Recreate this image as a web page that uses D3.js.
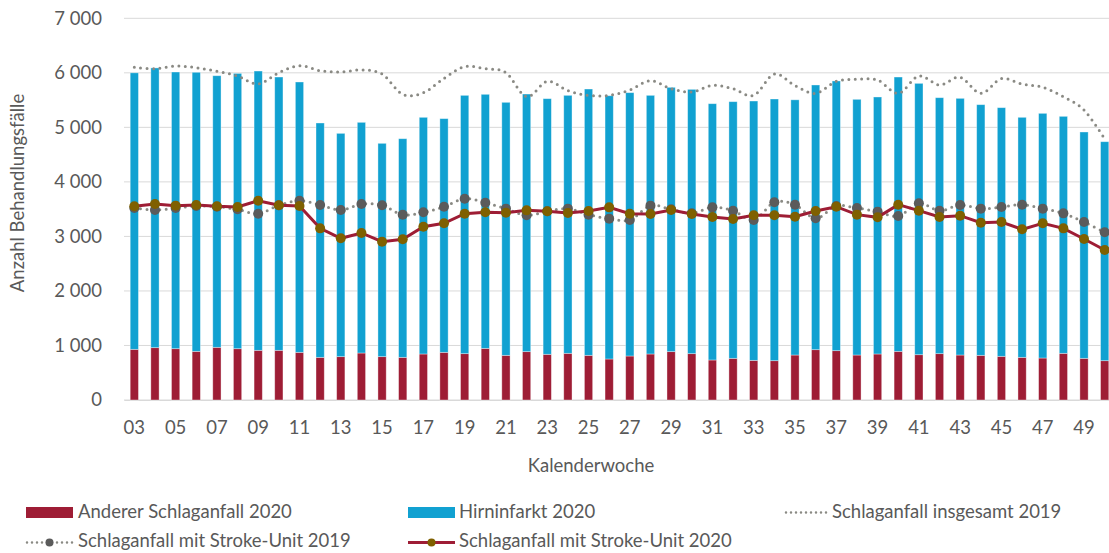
<!DOCTYPE html>
<html lang="de">
<head>
<meta charset="UTF-8">
<title>Schlaganfall Behandlungsfälle</title>
<script src="https://d3js.org/d3.v7.min.js"></script>
<style>
  body { margin: 0; background: #fff; }
  text { font-family: Lato, "Open Sans", sans-serif; fill: #595959; }
</style>
</head>
<body>
<svg id="main" width="1109" height="553"></svg>
<script>
// Kalenderwochen 03..50
const weeks = d3.range(3, 51).map(w => String(w).padStart(2, '0'));

// Anderer Schlaganfall 2020
const anderer2020 = [929, 960, 941, 892, 966, 941, 911, 911, 874, 782, 795, 862, 795, 782, 844, 874,
  850, 947, 819, 887, 838, 856, 819, 752, 807, 844, 887, 850, 734, 764, 727, 721,
  825, 923, 905, 825, 844, 892, 831, 850, 825, 819, 801, 782, 770, 856, 764, 721];

// Hirninfarkt + Anderer = Schlaganfall 2020 gesamt (Balkenhöhe)
const gesamt2020 = [6000, 6090, 6015, 6010, 5947, 5990, 6033, 5923, 5832, 5080, 4890, 5092, 4707, 4792, 5184, 5160,
  5587, 5606, 5459, 5611, 5526, 5587, 5703, 5580, 5636, 5587, 5734, 5697, 5434, 5471, 5483, 5520,
  5505, 5777, 5851, 5514, 5557, 5923, 5807, 5544, 5532, 5416, 5361, 5184, 5257, 5202, 4915, 4737];
const hirninfarkt2020 = gesamt2020.map((g, i) => g - anderer2020[i]);

// Schlaganfall insgesamt 2019
const insgesamt2019 = [6101, 6076, 6125, 6094, 6028, 5942, 5795, 6003, 6131, 6039, 6015, 6052, 5978, 5606, 5636, 5899,
  6113, 6076, 6003, 5562, 5844, 5673, 5587, 5587, 5685, 5856, 5709, 5648, 5771, 5709, 5587, 5978,
  5765, 5624, 5844, 5881, 5869, 5624, 5942, 5777, 5918, 5624, 5893, 5795, 5734, 5562, 5318, 4790];

// Schlaganfall mit Stroke-Unit 2019
const strokeUnit2019 = [3521, 3484, 3521, 3558, 3545, 3497, 3417, 3570, 3655, 3576, 3484, 3594, 3570, 3399, 3442, 3545,
  3692, 3619, 3509, 3387, 3460, 3509, 3399, 3326, 3301, 3564, 3497, 3423, 3533, 3472, 3301, 3625,
  3580, 3332, 3558, 3521, 3454, 3374, 3607, 3472, 3576, 3509, 3539, 3582, 3509, 3423, 3264, 3075];

// Schlaganfall mit Stroke-Unit 2020
const strokeUnit2020 = [3552, 3594, 3564, 3576, 3552, 3539, 3655, 3570, 3558, 3148, 2965, 3063, 2903, 2947, 3178, 3240,
  3417, 3442, 3435, 3478, 3460, 3429, 3466, 3533, 3417, 3411, 3484, 3411, 3356, 3319, 3387, 3387,
  3362, 3466, 3545, 3399, 3350, 3582, 3472, 3356, 3380, 3252, 3264, 3130, 3240, 3148, 2952, 2751];

const yTicks = [0, 1000, 2000, 3000, 4000, 5000, 6000, 7000];

const colRed = '#9E1D35', colBlue = '#11A1D1', colOlive = '#7F6000', colGrey = '#5B5B5B', colDot = '#8A8A84';
const fs = '18.5px';

const svg = d3.select('svg#main');
const plotLeft = 124, plotRight = 1115, plotTop = 18.3, plotBottom = 400;

const x = d3.scaleBand().domain(weeks).range([plotLeft, plotRight]).paddingInner(0.6).paddingOuter(0.3);
const y = d3.scaleLinear().domain([0, 7000]).range([plotBottom, plotTop]);
const cx = w => x(w) + x.bandwidth() / 2;

// gridlines
svg.append('g').selectAll('line').data(yTicks).join('line')
  .attr('x1', plotLeft).attr('x2', plotRight)
  .attr('y1', d => y(d)).attr('y2', d => y(d))
  .attr('stroke', '#D9D9D9').attr('stroke-width', 1);

// y axis
const yAxis = svg.append('g').attr('transform', `translate(${plotLeft},0)`)
  .call(d3.axisLeft(y).tickValues(yTicks).tickSize(0).tickPadding(22)
    .tickFormat(d => d3.format(',')(d).replace(',', ' ')));
yAxis.select('.domain').remove();
yAxis.selectAll('text').style('font-size', fs).attr('fill', '#595959');

// x axis
const xAxis = svg.append('g').attr('transform', `translate(0,${plotBottom})`)
  .call(d3.axisBottom(x).tickSize(0).tickPadding(21)
    .tickFormat((d, i) => i % 2 === 0 ? d : ''));
xAxis.select('.domain').attr('stroke', '#D9D9D9');
xAxis.selectAll('text').style('font-size', fs).attr('fill', '#595959');

// stacked bars
const rows = weeks.map((w, i) => ({ week: w, anderer: anderer2020[i], hirn: hirninfarkt2020[i] }));
const series = d3.stack().keys(['anderer', 'hirn'])(rows);
const barCols = [colRed, colBlue];
svg.append('g').selectAll('g').data(series).join('g')
  .attr('fill', (d, i) => barCols[i])
  .selectAll('rect').data(d => d).join('rect')
  .attr('x', d => x(d.data.week))
  .attr('width', x.bandwidth())
  .attr('y', d => y(d[1]))
  .attr('height', d => y(d[0]) - y(d[1]))
  .attr('stroke', 'rgba(255,255,255,0.45)').attr('stroke-width', 0.8);

// dotted total 2019
const smooth = d3.line().x((d, i) => cx(weeks[i])).y(d => y(d)).curve(d3.curveCardinal.tension(0));
svg.append('path').datum(insgesamt2019).attr('d', smooth)
  .attr('fill', 'none').attr('stroke', colDot).attr('stroke-width', 3)
  .attr('stroke-linecap', 'round').attr('stroke-dasharray', '0,6.4');

// Stroke-Unit 2019
svg.append('path').datum(strokeUnit2019).attr('d', smooth)
  .attr('fill', 'none').attr('stroke', colDot).attr('stroke-width', 3)
  .attr('stroke-linecap', 'round').attr('stroke-dasharray', '0,6.4');
svg.append('g').selectAll('circle').data(strokeUnit2019).join('circle')
  .attr('cx', (d, i) => cx(weeks[i])).attr('cy', d => y(d)).attr('r', 5)
  .attr('fill', colGrey);

// Stroke-Unit 2020
const straight = d3.line().x((d, i) => cx(weeks[i])).y(d => y(d));
svg.append('path').datum(strokeUnit2020).attr('d', straight)
  .attr('fill', 'none').attr('stroke', colRed).attr('stroke-width', 3);
svg.append('g').selectAll('circle').data(strokeUnit2020).join('circle')
  .attr('cx', (d, i) => cx(weeks[i])).attr('cy', d => y(d)).attr('r', 5)
  .attr('fill', colOlive);

// axis titles
svg.append('text').attr('transform', 'translate(24,193) rotate(-90)')
  .attr('text-anchor', 'middle').style('font-size', fs).text('Anzahl Behandlungsfälle');
svg.append('text').attr('x', 591).attr('y', 472)
  .attr('text-anchor', 'middle').style('font-size', fs).text('Kalenderwoche');

// legend
const lg = svg.append('g').style('font-size', fs);
function legText(xp, yp, t) {
  lg.append('text').attr('x', xp).attr('y', yp).text(t);
}
lg.append('rect').attr('x', 26).attr('y', 507).attr('width', 47).attr('height', 11).attr('fill', colRed);
legText(78, 518, 'Anderer Schlaganfall 2020');
lg.append('rect').attr('x', 408).attr('y', 507).attr('width', 47).attr('height', 11).attr('fill', colBlue);
legText(459, 518, 'Hirninfarkt 2020');
lg.append('line').attr('x1', 786).attr('x2', 828).attr('y1', 512.5).attr('y2', 512.5)
  .attr('stroke', colDot).attr('stroke-width', 2.5).attr('stroke-linecap', 'round').attr('stroke-dasharray', '0,5');
legText(832, 518, 'Schlaganfall insgesamt 2019');
lg.append('line').attr('x1', 27).attr('x2', 74).attr('y1', 542.5).attr('y2', 542.5)
  .attr('stroke', colDot).attr('stroke-width', 2.5).attr('stroke-linecap', 'round').attr('stroke-dasharray', '0,5');
lg.append('circle').attr('cx', 49.5).attr('cy', 542.5).attr('r', 4).attr('fill', colGrey);
legText(78, 547, 'Schlaganfall mit Stroke-Unit 2019');
lg.append('line').attr('x1', 408).attr('x2', 455).attr('y1', 542.5).attr('y2', 542.5)
  .attr('stroke', colRed).attr('stroke-width', 3);
lg.append('circle').attr('cx', 431.5).attr('cy', 542.5).attr('r', 4).attr('fill', colOlive);
legText(459, 547, 'Schlaganfall mit Stroke-Unit 2020');
</script>
</body>
</html>
